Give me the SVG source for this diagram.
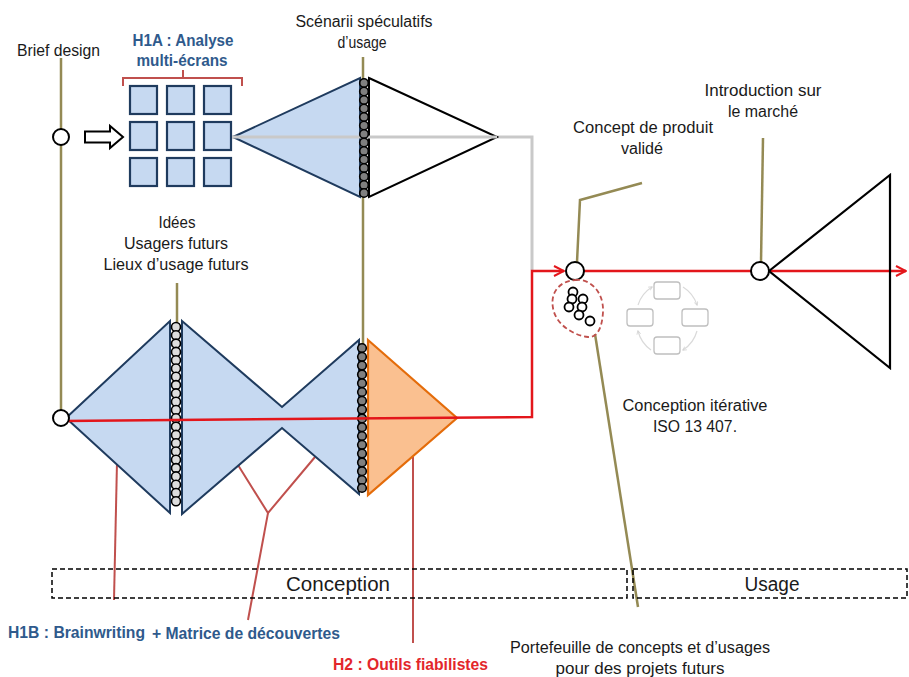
<svg xmlns="http://www.w3.org/2000/svg" width="909" height="677" viewBox="0 0 909 677">
<defs>
<style>
text{font-family:"Liberation Sans","Open Sans",Arial,sans-serif;font-size:16px;fill:#1a1a1a}
.c{text-anchor:middle}
.blue{fill:#2F5A8C;font-weight:bold}
.red{fill:#E3262B;font-weight:bold}
.olive{stroke:#948A54;stroke-width:2.5;fill:none}
.rl{stroke:#C0504D;stroke-width:2;fill:none}
.bl{fill:#C6D9F1;stroke:#1F3B5E;stroke-width:2}
.sq{fill:#C6D9F1;stroke:#1F3B5E;stroke-width:2.2}
.node{fill:#fff;stroke:#000;stroke-width:2}
.bead{fill:#808080;stroke:#000;stroke-width:1.6}
.beadL{fill:#DDDDDD;stroke:#000;stroke-width:1.6}
.redl{stroke:#E3161B;stroke-width:2.5;fill:none}
.cyc{fill:#fff;stroke:#BFBFBF;stroke-width:1.3}
.dash{fill:none;stroke:#000;stroke-width:1.5;stroke-dasharray:5 3}
</style>
<marker id="arr" viewBox="0 0 10 10" refX="9" refY="5" markerWidth="5" markerHeight="5" orient="auto" markerUnits="strokeWidth">
<path d="M1,1 L9,5 L1,9" fill="none" stroke="#E3161B" stroke-width="1.6"/>
</marker>
<marker id="carr" viewBox="0 0 10 10" refX="8" refY="5" markerWidth="4" markerHeight="4" orient="auto">
<path d="M1,1 L9,5 L1,9" fill="none" stroke="#D0D0D0" stroke-width="1.5"/>
</marker>
</defs>
<rect width="909" height="677" fill="#fff"/>

<g id="connectors">
<line class="olive" x1="61" y1="58" x2="61" y2="410"/>
<line class="olive" x1="363" y1="57" x2="363" y2="350"/>
<line class="olive" x1="177" y1="283" x2="177" y2="324"/>
<polyline class="olive" points="577,262 580,200 642,183"/>
<line class="olive" x1="763" y1="138" x2="761" y2="262"/>
<line class="olive" x1="595" y1="334" x2="638" y2="607"/>
<polyline points="232,137 532,137 532,270" fill="none" stroke="#C9C9C9" stroke-width="3"/>
<line class="rl" x1="117" y1="462" x2="114" y2="600"/>
<polyline class="rl" points="238,465 268,513 315,457"/>
<line class="rl" x1="268" y1="513" x2="248" y2="620"/>
<line class="rl" x1="413" y1="457" x2="413" y2="643"/>
<path class="rl" d="M123,86 L123,78 L183,78 L183,70 M183,78 L242,78 L242,86" stroke-width="1.2"/>
</g>

<g id="grid">
<rect class="sq" x="130" y="86" width="27" height="28"/>
<rect class="sq" x="167" y="86" width="27" height="28"/>
<rect class="sq" x="204" y="86" width="27" height="28"/>
<rect class="sq" x="130" y="122" width="27" height="28"/>
<rect class="sq" x="167" y="122" width="27" height="28"/>
<rect class="sq" x="204" y="122" width="27" height="28"/>
<rect class="sq" x="130" y="158" width="27" height="28"/>
<rect class="sq" x="167" y="158" width="27" height="28"/>
<rect class="sq" x="204" y="158" width="27" height="28"/>
</g>

<g id="hollow-arrow">
<path d="M85,131.5 L110,131.5 L110,126 L123,137 L110,148 L110,142.5 L85,142.5 Z" fill="#fff" stroke="#000" stroke-width="2"/>
</g>

<g id="upper-diamond">
<polygon class="bl" points="233,137 360,78 360,197"/>
<polygon points="369,78 497,137 369,197" fill="#fff" stroke="#000" stroke-width="2"/>
<line x1="232" y1="137" x2="497" y2="137" stroke="#C9C9C9" stroke-width="3"/>
<g>
<circle class="bead" cx="364" cy="83" r="4.3"/><circle class="bead" cx="364" cy="91.5" r="4.3"/><circle class="bead" cx="364" cy="100" r="4.3"/><circle class="bead" cx="364" cy="108.5" r="4.3"/><circle class="bead" cx="364" cy="117" r="4.3"/><circle class="bead" cx="364" cy="125.5" r="4.3"/><circle class="bead" cx="364" cy="134" r="4.3"/><circle class="bead" cx="364" cy="142.5" r="4.3"/><circle class="bead" cx="364" cy="151" r="4.3"/><circle class="bead" cx="364" cy="159.5" r="4.3"/><circle class="bead" cx="364" cy="168" r="4.3"/><circle class="bead" cx="364" cy="176.5" r="4.3"/><circle class="bead" cx="364" cy="185" r="4.3"/><circle class="bead" cx="364" cy="193" r="4.3"/>
</g>
</g>

<g id="lower-diamonds">
<polygon class="bl" points="66,418 170,321 170,513"/>
<polygon class="bl" points="182,321 282,407 359,340 359,494 282,428 182,514"/>
<polygon points="368,340 457,418 368,495" fill="#FAC090" stroke="#E46C0A" stroke-width="2.2"/>
<g>
<circle class="beadL" cx="176" cy="327" r="4.5"/><circle class="beadL" cx="176" cy="335.3" r="4.5"/><circle class="beadL" cx="176" cy="343.6" r="4.5"/><circle class="beadL" cx="176" cy="351.9" r="4.5"/><circle class="beadL" cx="176" cy="360.2" r="4.5"/><circle class="beadL" cx="176" cy="368.5" r="4.5"/><circle class="beadL" cx="176" cy="376.8" r="4.5"/><circle class="beadL" cx="176" cy="385.1" r="4.5"/><circle class="beadL" cx="176" cy="393.4" r="4.5"/><circle class="beadL" cx="176" cy="401.7" r="4.5"/><circle class="beadL" cx="176" cy="410" r="4.5"/><circle class="beadL" cx="176" cy="418.3" r="4.5"/><circle class="beadL" cx="176" cy="426.6" r="4.5"/><circle class="beadL" cx="176" cy="434.9" r="4.5"/><circle class="beadL" cx="176" cy="443.2" r="4.5"/><circle class="beadL" cx="176" cy="451.5" r="4.5"/><circle class="beadL" cx="176" cy="459.8" r="4.5"/><circle class="beadL" cx="176" cy="468.1" r="4.5"/><circle class="beadL" cx="176" cy="476.4" r="4.5"/><circle class="beadL" cx="176" cy="484.7" r="4.5"/><circle class="beadL" cx="176" cy="493" r="4.5"/><circle class="beadL" cx="176" cy="501.3" r="4.5"/>
</g>
<g>
<circle class="bead" cx="362" cy="348" r="4.3"/><circle class="bead" cx="362" cy="356.8" r="4.3"/><circle class="bead" cx="362" cy="365.6" r="4.3"/><circle class="bead" cx="362" cy="374.4" r="4.3"/><circle class="bead" cx="362" cy="383.2" r="4.3"/><circle class="bead" cx="362" cy="392" r="4.3"/><circle class="bead" cx="362" cy="400.8" r="4.3"/><circle class="bead" cx="362" cy="409.6" r="4.3"/><circle class="bead" cx="362" cy="418.4" r="4.3"/><circle class="bead" cx="362" cy="427.2" r="4.3"/><circle class="bead" cx="362" cy="436" r="4.3"/><circle class="bead" cx="362" cy="444.8" r="4.3"/><circle class="bead" cx="362" cy="453.6" r="4.3"/><circle class="bead" cx="362" cy="462.4" r="4.3"/><circle class="bead" cx="362" cy="471.2" r="4.3"/><circle class="bead" cx="362" cy="480" r="4.3"/><circle class="bead" cx="362" cy="488" r="4.3"/>
</g>
</g>

<g id="red-flow">
<polyline class="redl" points="63,421 532,417 532,271 564,271" marker-end="url(#arr)"/>
<line class="redl" x1="584" y1="271" x2="906" y2="271" marker-end="url(#arr)"/>
</g>

<g id="market-triangle">
<polygon points="769,271 890,175 890,368" fill="none" stroke="#000" stroke-width="2.2"/>
</g>

<g id="nodes">
<circle class="node" cx="61" cy="137" r="8"/>
<circle class="node" cx="61" cy="418" r="8" fill="none"/>
<circle class="node" cx="575" cy="271" r="9"/>
<circle class="node" cx="760" cy="271" r="9"/>
</g>

<g id="portfolio">
<path d="M575,280 C590,278 604,292 603,312 C602,330 596,338 588,337 C576,336 556,326 553,308 C550,292 560,281 575,280 Z" fill="none" stroke="#C0504D" stroke-width="1.8" stroke-dasharray="5 3"/>
<g fill="#fff" stroke="#000" stroke-width="1.8">
<circle cx="573" cy="292" r="4.5"/><circle cx="572" cy="299" r="4.5"/><circle cx="583" cy="299" r="4.5"/><circle cx="569" cy="307" r="4.5"/><circle cx="582" cy="307" r="4.5"/><circle cx="579" cy="315" r="4.5"/><circle cx="590" cy="321" r="4.5"/>
</g>
</g>

<g id="iterative-cycle">
<path d="M683,287 A33,33 0 0 1 697,305" fill="none" stroke="#DADADA" stroke-width="1.2" marker-end="url(#carr)"/>
<path d="M697,331 A33,33 0 0 1 683,350" fill="none" stroke="#DADADA" stroke-width="1.2" marker-end="url(#carr)"/>
<path d="M651,350 A33,33 0 0 1 638,331" fill="none" stroke="#DADADA" stroke-width="1.2" marker-end="url(#carr)"/>
<path d="M638,305 A33,33 0 0 1 652,287" fill="none" stroke="#DADADA" stroke-width="1.2" marker-end="url(#carr)"/>
<rect class="cyc" x="654" y="282" width="26" height="17" rx="3"/>
<rect class="cyc" x="627" y="309" width="26" height="17" rx="3"/>
<rect class="cyc" x="682" y="309" width="26" height="17" rx="3"/>
<rect class="cyc" x="654" y="337" width="26" height="17" rx="3"/>
</g>

<g id="phases">
<rect class="dash" x="52" y="569" width="575" height="29"/>
<rect class="dash" x="633" y="569" width="274" height="29"/>
<text class="c" x="338" y="591" style="font-size:20px" textLength="104" lengthAdjust="spacingAndGlyphs">Conception</text>
<text class="c" x="772" y="591" style="font-size:20px" textLength="55" lengthAdjust="spacingAndGlyphs">Usage</text>
</g>

<g id="labels">
<text x="17" y="56" textLength="83" lengthAdjust="spacingAndGlyphs">Brief design</text>
<text class="c blue" x="183" y="46" textLength="101" lengthAdjust="spacingAndGlyphs">H1A : Analyse</text>
<text class="c blue" x="182" y="66" textLength="91" lengthAdjust="spacingAndGlyphs">multi-écrans</text>
<text class="c" x="364" y="27" textLength="137" lengthAdjust="spacingAndGlyphs">Scénarii spéculatifs</text>
<text class="c" x="362" y="48" textLength="49" lengthAdjust="spacingAndGlyphs">d’usage</text>
<text class="c" x="177" y="228" textLength="37" lengthAdjust="spacingAndGlyphs">Idées</text>
<text class="c" x="176" y="249" textLength="104" lengthAdjust="spacingAndGlyphs">Usagers futurs</text>
<text class="c" x="176" y="270" textLength="145" lengthAdjust="spacingAndGlyphs">Lieux d’usage futurs</text>
<text class="c" x="643" y="133" textLength="140" lengthAdjust="spacingAndGlyphs">Concept de produit</text>
<text class="c" x="642" y="154" textLength="42" lengthAdjust="spacingAndGlyphs">validé</text>
<text class="c" x="763" y="96" textLength="117" lengthAdjust="spacingAndGlyphs">Introduction sur</text>
<text class="c" x="763" y="117" textLength="70" lengthAdjust="spacingAndGlyphs">le marché</text>
<text class="c" x="695" y="411" textLength="145" lengthAdjust="spacingAndGlyphs">Conception  itérative</text>
<text class="c" x="695" y="432" textLength="84" lengthAdjust="spacingAndGlyphs">ISO 13 407.</text>
<text class="blue" x="8" y="638" textLength="137" lengthAdjust="spacingAndGlyphs">H1B : Brainwriting</text>
<text class="blue" x="152" y="639" textLength="188" lengthAdjust="spacingAndGlyphs">+ Matrice de découvertes</text>
<text class="red" x="333" y="670" textLength="155" lengthAdjust="spacingAndGlyphs">H2 : Outils fiabilistes</text>
<text class="c" x="640" y="653" textLength="260" lengthAdjust="spacingAndGlyphs">Portefeuille  de concepts et d’usages</text>
<text class="c" x="640" y="674" textLength="169" lengthAdjust="spacingAndGlyphs">pour des projets futurs</text>
</g>
</svg>
